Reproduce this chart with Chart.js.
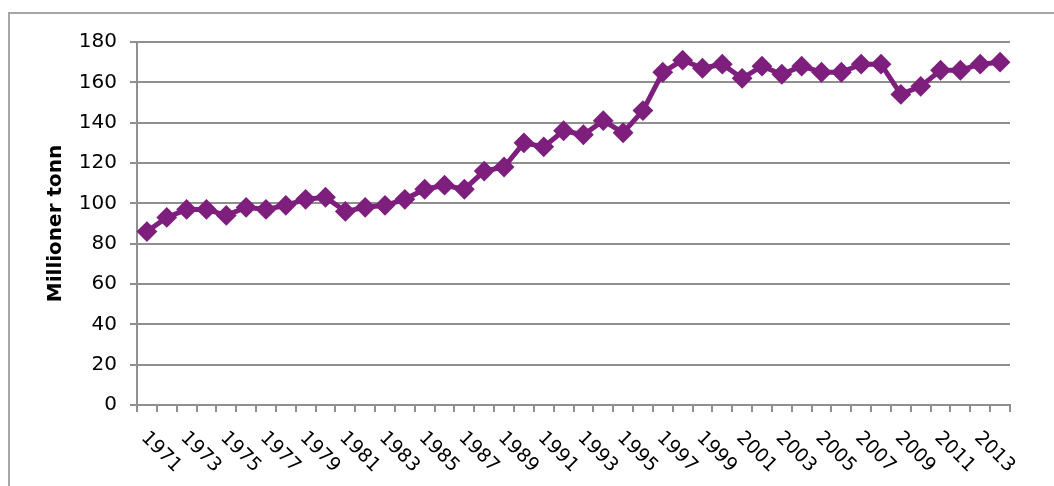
<!DOCTYPE html>
<html>
<head>
<meta charset="utf-8">
<script src="https://cdn.jsdelivr.net/npm/chart.js@4"></script>
<style>
  html, body { margin: 0; padding: 0; background: #fff; }
  #wrap { position: relative; width: 1054px; height: 486px; overflow: hidden; }
  #frame { position: absolute; left: 8px; top: 12px; width: 1100px; height: 600px;
           border-left: 2px solid #a6a6a6; border-top: 2px solid #a6a6a6; }
  canvas { position: absolute; left: 0; top: 0; }
</style>
</head>
<body>
<div id="wrap">
  <div id="frame"></div>
  <canvas id="chart" width="1054" height="486"></canvas>
</div>
<script>
// years on the x axis
const years = [];
for (let y = 1971; y <= 2014; y++) years.push(String(y));

// million tonnes
const values = [
    86, 93, 97, 97, 94, 98, 97, 99, 102, 103,
    96, 98, 99, 102, 107, 109, 107, 116, 118, 130,
    128, 136, 134, 141, 135, 146, 165, 171, 167, 169,
    162, 168, 164, 168, 165, 165, 169, 169, 154, 158,
    166, 166, 169, 170
];

const yTicks = [0, 20, 40, 60, 80, 100, 120, 140, 160, 180];

const purple = "#7e1f7e";
const gridGray = "#8f8f8f";

// Rotated x labels (text runs down to the right, every other year)
const slantLabels = {
    id: "slantLabels",
    afterDraw(chart) {
        const ctx = chart.ctx;
        const xs = chart.scales.x;
        ctx.save();
        ctx.font = "19px 'DejaVu Sans'";
        ctx.fillStyle = "#000";
        ctx.textAlign = "left";
        ctx.textBaseline = "middle";
        years.forEach((label, i) => {
            if (i % 2 !== 0) return;
            const x = xs.getPixelForValue(i);
            ctx.save();
            ctx.translate(x - 3, xs.top + 30);
            ctx.rotate(Math.PI / 4);
            ctx.fillText(label, 0, 0);
            ctx.restore();
        });
        ctx.restore();
    }
};

new Chart(document.getElementById("chart"), {
    type: "line",
    data: {
        labels: years,
        datasets: [{
            data: values,
            borderColor: purple,
            backgroundColor: purple,
            borderWidth: 5,
            tension: 0,
            pointStyle: "rectRot",
            pointRadius: 9,
            pointBorderWidth: 2,
            pointBackgroundColor: purple,
            pointBorderColor: purple
        }]
    },
    options: {
        responsive: false,
        animation: false,
        events: [],
        layout: { padding: { left: 0, top: 42, right: 44, bottom: 0 } },
        plugins: {
            legend: { display: false },
            tooltip: { enabled: false }
        },
        scales: {
            x: {
                offset: true,
                grid: {
                    offset: true,
                    drawOnChartArea: false,
                    color: gridGray,
                    lineWidth: 2,
                    tickLength: 7
                },
                border: { color: gridGray, width: 2 },
                ticks: { display: false, autoSkip: false },
                afterFit(scale) { scale.height = 81; }
            },
            y: {
                min: 0,
                max: 180,
                afterBuildTicks(scale) {
                    scale.ticks = yTicks.map(v => ({ value: v }));
                },
                grid: {
                    color: gridGray,
                    lineWidth: 2,
                    tickLength: 7
                },
                border: { color: gridGray, width: 2 },
                ticks: {
                    padding: 13,
                    color: "#000",
                    font: { family: "'DejaVu Sans'", size: 20 }
                },
                title: {
                    display: true,
                    text: "Millioner tonn",
                    color: "#000",
                    font: { family: "'DejaVu Sans'", size: 20, weight: "bold" },
                    padding: { top: 44, bottom: 0 }
                },
                afterFit(scale) { scale.width = 137; }
            }
        }
    },
    plugins: [slantLabels]
});
</script>
</body>
</html>
